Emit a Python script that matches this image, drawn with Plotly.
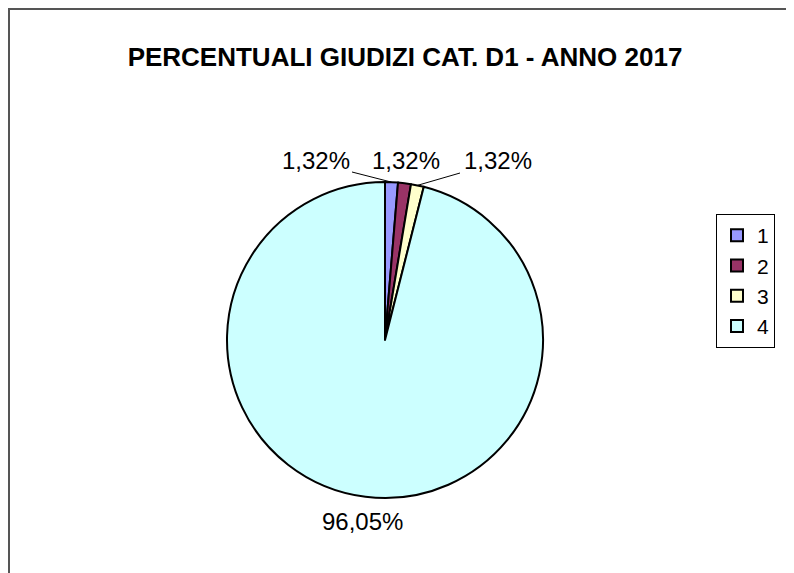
import math
import plotly.graph_objects as go

categories = ["1", "2", "3", "4"]
values = [1, 1, 1, 73]
colors = ["#9999FF", "#993366", "#FFFFCC", "#CCFFFF"]
title_text = "PERCENTUALI GIUDIZI CAT. D1 - ANNO 2017"

# page body has an 8px margin; figure fills the rest of the 794x573 window
W, H = 786, 565
cx, cy, r = 377, 332, 158

FONT = "Liberation Sans, Arial, Helvetica"
LABEL_SIZE = 24

# manual data-label placement (pixel positions in the figure), as in the original chart
label_pos = [(308, 152), (398, 152), (490, 152), (354, 513)]
leader_start = [(344, 164), None, (452, 165), None]

total = sum(values)

fig = go.Figure(go.Pie(
    labels=categories,
    values=values,
    sort=False,
    direction="clockwise",
    rotation=0,
    marker=dict(colors=colors, line=dict(color="black", width=2)),
    textinfo="none",
    domain=dict(x=[(cx - r) / W, (cx + r) / W], y=[(H - cy - r) / H, (H - cy + r) / H]),
    showlegend=True,
))

annotations = []
shapes = [dict(type="rect", xref="paper", yref="paper",
               x0=1 / W, x1=1.05, y0=-0.05, y1=1 - 1 / H,
               line=dict(color="#555555", width=2))]

cum = 0
for i, v in enumerate(values):
    mid = (cum + v / 2) / total * 2 * math.pi
    cum += v
    pct = v / total * 100
    txt = f"{pct:.2f}%".replace(".", ",")
    lx, ly = label_pos[i]
    annotations.append(dict(x=lx / W, y=1 - ly / H, xref="paper", yref="paper",
                            text=txt, showarrow=False, xanchor="center", yanchor="middle",
                            font=dict(family=FONT, size=LABEL_SIZE, color="black")))
    if leader_start[i] is not None:
        ex = cx + r * math.sin(mid)
        ey = cy - r * math.cos(mid)
        sx, sy = leader_start[i]
        shapes.append(dict(type="line", xref="paper", yref="paper",
                           x0=sx / W, y0=1 - sy / H, x1=ex / W, y1=1 - ey / H,
                           line=dict(color="black", width=1)))

fig.update_layout(
    width=W, height=H,
    margin=dict(l=0, r=0, t=0, b=0),
    paper_bgcolor="white",
    font=dict(family=FONT, color="black"),
    title=dict(text="<b>" + title_text + "</b>", x=397 / W, xanchor="center",
               y=1 - 49 / H, yanchor="middle",
               font=dict(size=26, family=FONT, color="black")),
    legend=dict(x=708 / W, xanchor="left", y=1 - 206 / H, yanchor="top",
                bordercolor="black", borderwidth=1, bgcolor="white",
                font=dict(size=21), itemwidth=30, tracegroupgap=0),
    annotations=annotations,
    shapes=shapes,
)

fig.write_html("out.html")
